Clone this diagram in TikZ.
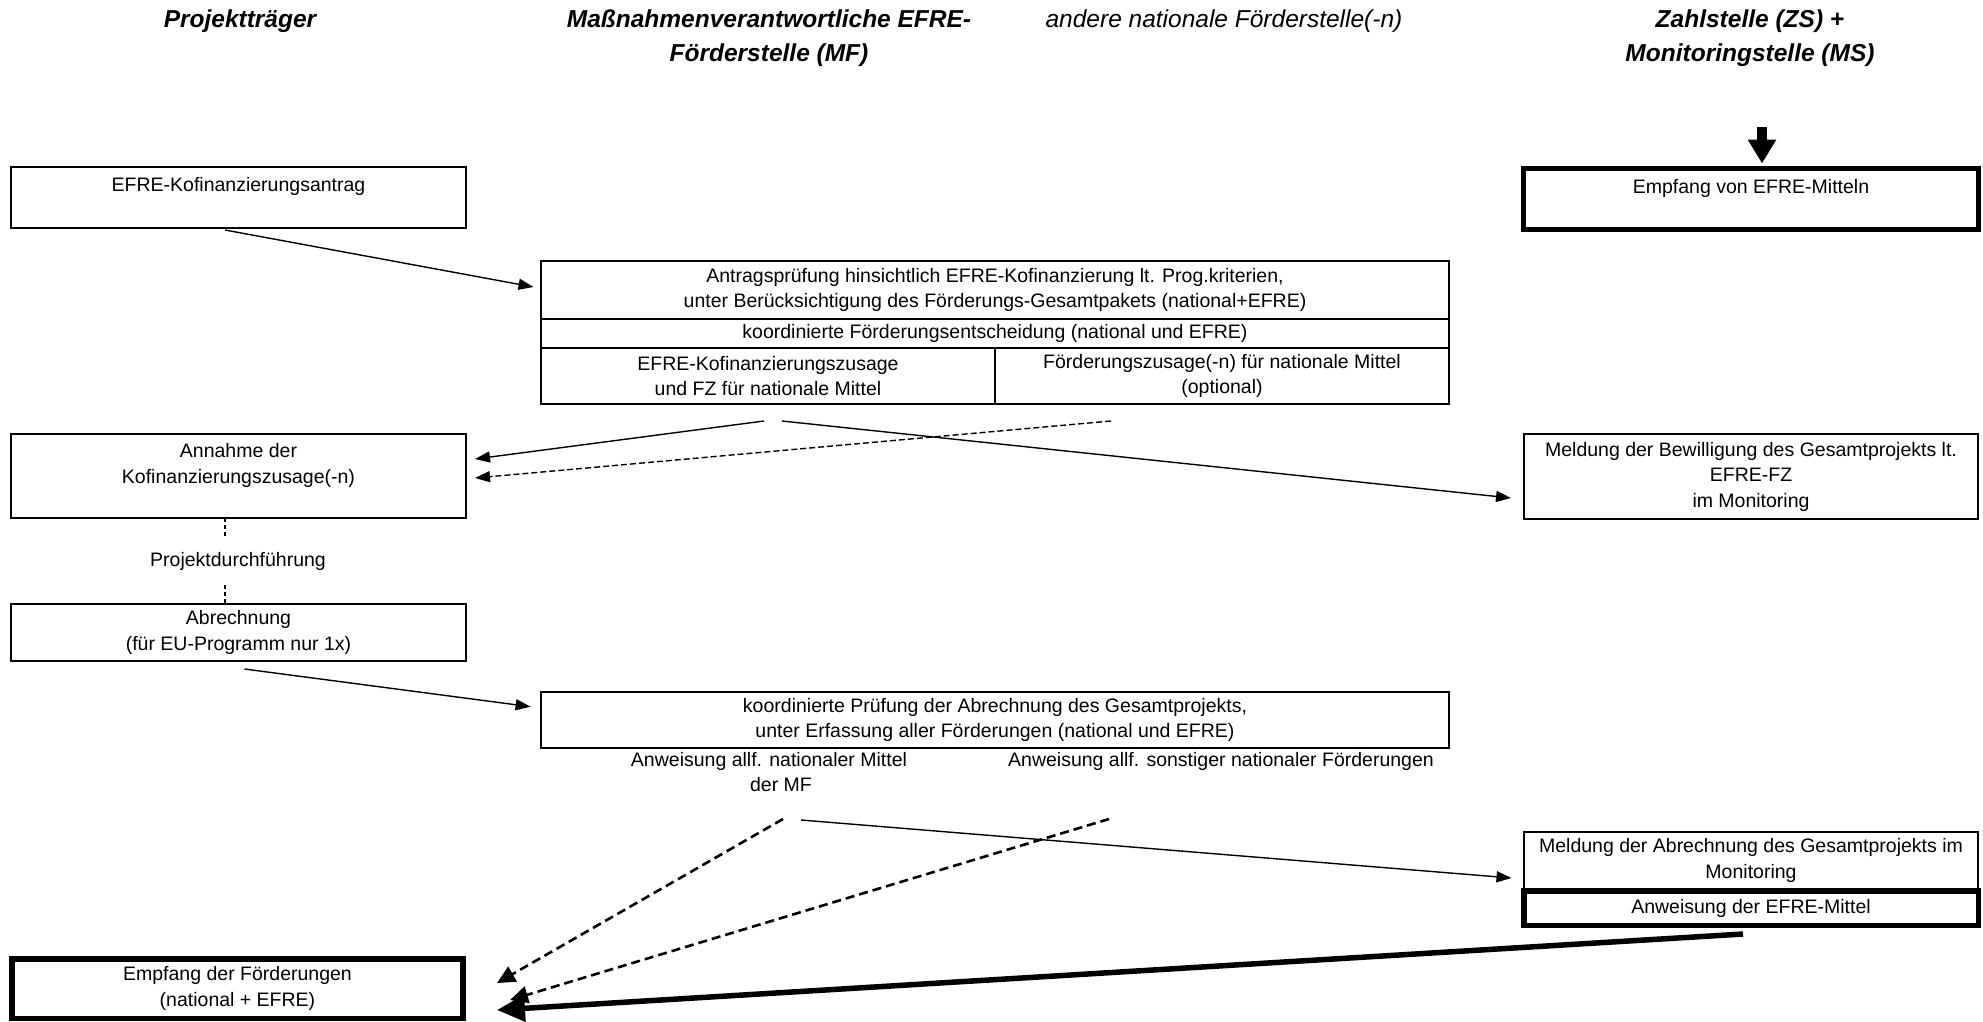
\documentclass[tikz,border=0pt]{standalone}
\usepackage{fontspec}
\setmainfont{Liberation Sans}
\usetikzlibrary{arrows.meta}
\begin{document}
\begin{tikzpicture}[x=1pt,y=-1pt,
  every node/.style={font=\fontsize{19.5}{25.5}\selectfont, inner sep=0pt, outer sep=0pt, align=center},
  hdr/.style={font=\fontsize{24.5}{34}\selectfont\bfseries\itshape, anchor=north},
  hdrn/.style={font=\fontsize{24.5}{34}\selectfont\itshape, anchor=north},
  box/.style={draw, line width=1.8pt},
  tbox/.style={draw, line width=5.5pt},
  arr/.style={line width=1.4pt, -{Triangle[length=15pt,width=11pt]}},
  darr/.style={line width=1.4pt, dash pattern=on 6pt off 3pt, -{Triangle[length=15pt,width=11pt]}},
  ddarr/.style={line width=2.6pt, dash pattern=on 9pt off 5pt, -{Triangle[length=18pt,width=17pt]}},
  thickarr/.style={line width=5.5pt, -{Triangle[length=28pt,width=26pt]}},
  bigarr/.style={line width=10pt, -{Triangle[length=24pt,width=27pt]}},
  dline/.style={line width=1.2pt, dash pattern=on 4pt off 3pt},
  ]
\useasboundingbox (0,0) rectangle (1983,1021);

% headers
\node[hdr] (hPT) at (240,10) {Projektträger};
\node[hdr] (hMF) at (769,10) {Maßnahmenverantwortliche EFRE-\\Förderstelle (MF)};
\node[hdrn] (hNF) at (1224,10) {andere nationale Förderstelle(-n)};
\node[hdr] (hZS) at (1750,10) {Zahlstelle (ZS) +\\Monitoringstelle (MS)};

% left column
\node[box, minimum width=455pt, minimum height=61pt] (b1) at (238.5,197.5) {EFRE-Kofinanzierungsantrag\\\mbox{}};
\node[box, minimum width=455pt, minimum height=84pt] (ann) at (238.5,476) {Annahme der\\Kofinanzierungszusage(-n)\\\mbox{}};
\node[minimum height=48pt] (pd) at (238,561) {Projektdurchführung};
\node[box, minimum width=455pt, minimum height=57pt] (abr) at (238.5,632.5) {Abrechnung\\(für EU-Programm nur 1x)};
\node[tbox, minimum width=451pt, minimum height=59.5pt] (ef) at (237.5,988.5) {Empfang der Förderungen\\(national + EFRE)};

% middle table
\node[box, minimum width=908pt, minimum height=58pt] (row1) at (995,290) {Antragsprüfung hinsichtlich EFRE-Kofinanzierung lt. Prog.kriterien,\\unter Berücksichtigung des Förderungs-Gesamtpakets (national+EFRE)};
\node[box, minimum width=908pt, minimum height=29pt] (row2) at (995,333.5) {koordinierte Förderungsentscheidung (national und EFRE)};
\node[box, minimum width=454pt, minimum height=56pt] (r3l) at (768,376) {EFRE-Kofinanzierungszusage\\und FZ für nationale Mittel};
\node[box, minimum width=454pt, minimum height=56pt] (r3r) at (1222,376) {Förderungszusage(-n) für nationale Mittel\\(optional)};

\node[box, minimum width=908pt, minimum height=56pt] (kp) at (995,720) {koordinierte Prüfung der Abrechnung des Gesamtprojekts,\\unter Erfassung aller Förderungen (national und EFRE)};
\node[anchor=north] (an1) at (769,752) {Anweisung allf. nationaler Mittel\\\hspace*{24pt}der MF};
\node[anchor=north] (an2) at (1221,752) {Anweisung allf. sonstiger nationaler Förderungen};

% right column
\node[draw, line width=5pt, minimum width=455pt, minimum height=61pt] (eE) at (1751,199) {Empfang von EFRE-Mitteln\\\mbox{}};
\node[box, minimum width=454pt, minimum height=85pt] (mb) at (1751,476.5) {Meldung der Bewilligung des Gesamtprojekts lt.\\EFRE-FZ\\im Monitoring};
\node[box, minimum width=454pt, minimum height=57pt] (ma) at (1751,860.5) {Meldung der Abrechnung des Gesamtprojekts im\\Monitoring};
\node[tbox, minimum width=454.5pt, minimum height=34.5pt] (anw) at (1751,908) {Anweisung der EFRE-Mittel};

% connectors
\coordinate (zsin) at (1762,127);
\draw[bigarr] (zsin) -- ([xshift=11pt,yshift=5pt]eE.north);

\draw[arr] ([xshift=-13.5pt,yshift=-2pt]b1.south) -- ([xshift=-7.5pt,yshift=3pt]row1.west);
\draw[arr] ([xshift=-4pt,yshift=-17pt]r3l.south) -- ([xshift=9pt,yshift=17pt]ann.east);
\draw[darr] ([xshift=-111pt,yshift=-17pt]r3r.south) -- ([xshift=9pt,yshift=-2pt]ann.east);
\draw[arr] ([xshift=14pt,yshift=-17pt]r3l.south) -- ([xshift=-13pt,yshift=-21.5pt]mb.west);

\draw[dline] ([xshift=-13.5pt]ann.south) -- ([xshift=-13pt]pd.north);
\draw[dline] ([xshift=-13pt]pd.south) -- ([xshift=-13.5pt]abr.north);

\draw[arr] ([xshift=6pt,yshift=-8pt]abr.south) -- ([xshift=-10.4pt,yshift=13.3pt]kp.west);

\draw[arr] ([xshift=32pt,yshift=-68pt]an1.north) -- ([xshift=-12.5pt,yshift=-17.5pt]ma.west);
\draw[ddarr] ([xshift=14pt,yshift=-67pt]an1.north) -- ([xshift=34pt,yshift=5.5pt]ef.east);
\draw[ddarr] ([xshift=-112pt,yshift=-67pt]an2.north) -- ([xshift=47pt,yshift=-11.5pt]ef.east);
\draw[thickarr] ([xshift=-8pt,yshift=-8.75pt]anw.south) -- ([xshift=34pt,yshift=-21.5pt]ef.east);
\end{tikzpicture}
\end{document}
